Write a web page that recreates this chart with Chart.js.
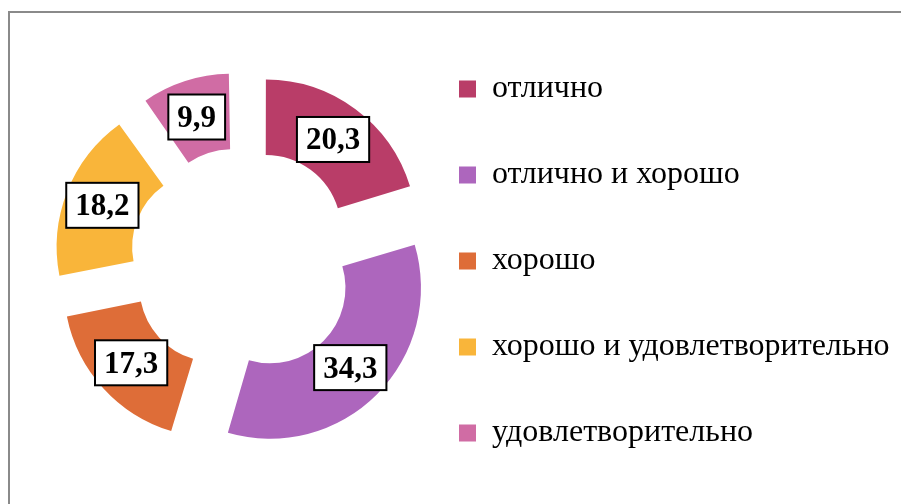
<!DOCTYPE html>
<html>
<head>
<meta charset="utf-8">
<script src="https://cdn.jsdelivr.net/npm/chart.js@4/dist/chart.umd.min.js"></script>
<style>
  body { margin: 0; background: #fff; }
  #wrap { position: relative; width: 901px; height: 504px; }
  #frame { position: absolute; left: 8px; top: 11px; width: 900px; height: 500px;
           border-left: 2px solid #8a8a8a; border-top: 2px solid #8a8a8a; }
  canvas { position: absolute; left: 0; top: 0; }
</style>
</head>
<body>
<div id="wrap">
  <div id="frame"></div>
  <canvas id="myChart" width="901" height="504"></canvas>
</div>
<script>
// data
const categories = ["отлично", "отлично и хорошо", "хорошо", "хорошо и удовлетворительно", "удовлетворительно"];
const values = [20.3, 34.3, 17.3, 18.2, 9.9];
const valueLabels = ["20,3", "34,3", "17,3", "18,2", "9,9"];
const colors = ["#b93d68", "#ad66bd", "#de6d38", "#f9b53a", "#d06ca4"];

const legendFont = { family: "'Liberation Serif', 'Times New Roman', serif", size: 32 };
const legendPad = 54;
const explode = 152; // chart.js moves a slice by offset / 4

// how wide the legend will be, so the ring sits where it should
const mctx = document.createElement("canvas").getContext("2d");
mctx.font = legendFont.size + "px " + legendFont.family;
let maxText = 0;
categories.forEach(c => { maxText = Math.max(maxText, mctx.measureText(c).width); });
const legendWidth = legendPad + 17 + legendFont.size / 2 + maxText + 10;
const legendLeft = 405;

function growOf(arc) {
  const off = (arc.options.offset || 0) / 4;
  return off * (1 - Math.sin(Math.min(Math.PI, arc.circumference || 0)));
}

// chart.js also grows narrow exploded slices a little; undo that so all rings match
const keepRadius = {
  id: "keepRadius",
  afterDatasetUpdate(chart, args) {
    args.meta.data.forEach(arc => {
      const g = growOf(arc);
      arc.outerRadius -= g;
      arc.innerRadius -= g;
    });
  }
};

// value boxes drawn in the middle of each (exploded) slice
const valueBoxes = {
  id: "valueBoxes",
  afterDatasetsDraw(chart) {
    const ctx = chart.ctx;
    const meta = chart.getDatasetMeta(0);
    ctx.save();
    ctx.font = "bold 31px 'Liberation Serif', 'Times New Roman', serif";
    ctx.textAlign = "center";
    ctx.textBaseline = "middle";
    meta.data.forEach((arc, i) => {
      const p = arc.getProps(["x", "y", "startAngle", "endAngle", "innerRadius", "outerRadius"]);
      const mid = (p.startAngle + p.endAngle) / 2;
      const dist = (p.innerRadius + p.outerRadius) / 2 + growOf(arc) + arc.options.offset / 4;
      const cx = p.x + Math.cos(mid) * dist;
      const cy = p.y + Math.sin(mid) * dist;
      const w = ctx.measureText(valueLabels[i]).width + 18;
      const h = 45;
      ctx.fillStyle = "#fff";
      ctx.fillRect(cx - w / 2, cy - h / 2, w, h);
      ctx.lineWidth = 2;
      ctx.strokeStyle = "#000";
      ctx.strokeRect(cx - w / 2, cy - h / 2, w, h);
      ctx.fillStyle = "#000";
      ctx.fillText(valueLabels[i], cx, cy + 2);
    });
    ctx.restore();
  }
};

const ctx = document.getElementById("myChart").getContext("2d");
const myChart = new Chart(ctx, {
  type: "doughnut",
  data: {
    labels: categories,
    datasets: [
      {
        data: values,
        backgroundColor: colors,
        borderWidth: 0,
        offset: explode,
      },
    ],
  },
  options: {
    responsive: false,
    animation: false,
    cutout: "50%",
    radius: 151,
    layout: {
      padding: { top: 19, bottom: 1, left: 81, right: 901 - legendLeft - legendWidth },
    },
    plugins: {
      tooltip: { enabled: false },
      legend: {
        position: "right",
        align: "start",
        maxWidth: 800,
        labels: {
          boxWidth: 17,
          boxHeight: 17,
          padding: legendPad,
          color: "#000",
          font: legendFont,
        },
      },
    },
  },
  plugins: [keepRadius, valueBoxes],
});
</script>
</body>
</html>
